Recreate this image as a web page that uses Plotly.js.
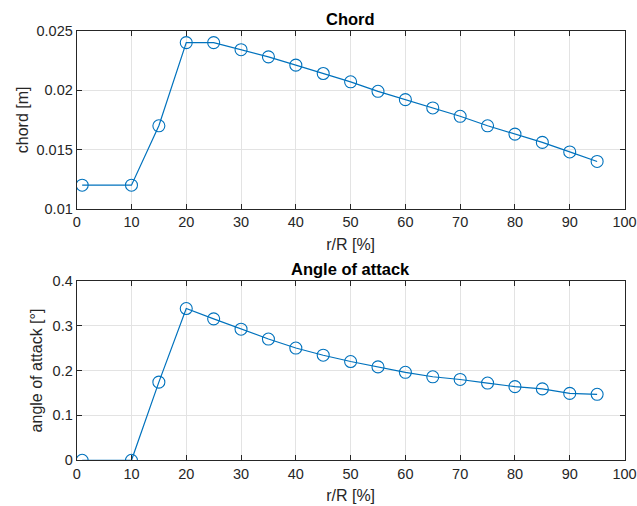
<!DOCTYPE html>
<html>
<head>
<meta charset="utf-8">
<script src="https://cdn.plot.ly/plotly-3.0.1.min.js"></script>
<style>html,body{margin:0;padding:0;background:#fff;}#chart{width:637px;height:506px;}</style>
</head>
<body>
<div id="chart"></div>
<script>
const rR = [1, 10, 15, 20, 25, 30, 35, 40, 45, 50, 55, 60, 65, 70, 75, 80, 85, 90, 95];
const chord = [0.012, 0.012, 0.017, 0.024, 0.024, 0.0234, 0.0228, 0.0221, 0.0214, 0.0207, 0.0199, 0.0192, 0.0185, 0.0178, 0.0170, 0.0163, 0.0156, 0.0148, 0.0140];
const aoa = [0, 0, 0.174, 0.338, 0.315, 0.292, 0.270, 0.250, 0.234, 0.220, 0.208, 0.196, 0.186, 0.180, 0.172, 0.164, 0.159, 0.149, 0.147];
const xTicks = [0, 10, 20, 30, 40, 50, 60, 70, 80, 90, 100];
const chordTicks = [0.01, 0.015, 0.02, 0.025];
const chordTickText = ['0.01', '0.015', '0.02', '0.025'];
const aoaTicks = [0, 0.1, 0.2, 0.3, 0.4];
const aoaTickText = ['0', '0.1', '0.2', '0.3', '0.4'];

const blue = '#0072BD';
const axisCol = '#262626';
const fam = 'Liberation Sans, Arial, sans-serif';
const tickFont = {family: fam, size: 14.5, color: axisCol};
const labelFont = {family: fam, size: 16, color: axisCol};

const trace = (y, xa, ya) => ({
  x: rR, y: y, xaxis: xa, yaxis: ya, type: 'scatter', mode: 'lines+markers',
  line: {color: blue, width: 1.2},
  marker: {symbol: 'circle-open', size: 12, color: blue, line: {width: 1.1, color: blue}},
  showlegend: false, hoverinfo: 'x+y'
});

const common = {
  ticks: 'inside', ticklen: 5, tickcolor: axisCol, tickwidth: 1,
  showline: true, linecolor: axisCol, linewidth: 1, mirror: 'ticks',
  showgrid: true, gridcolor: '#e3e3e3', gridwidth: 1, zeroline: false,
  tickfont: tickFont, automargin: false, ticklabeloverflow: 'allow'
};

const xAxisBase = (anchor) => Object.assign({}, common, {
  anchor: anchor, domain: [0.1204, 0.9804], range: [0, 100],
  tickvals: xTicks, ticktext: xTicks.map(String),
  title: {text: 'r/R [%]', font: labelFont, standoff: 9}
});

const layout = {
  width: 637, height: 506,
  margin: {l: 0, r: 0, t: 0, b: 0},
  paper_bgcolor: '#ffffff', plot_bgcolor: '#ffffff',
  font: tickFont,
  xaxis: xAxisBase('y'),
  yaxis: Object.assign({}, common, {
    anchor: 'x', domain: [0.587, 0.9393], range: [0.01, 0.025],
    tickvals: chordTicks, ticktext: chordTickText,
    title: {text: 'chord [m]', font: labelFont, standoff: 3}
  }),
  xaxis2: xAxisBase('y2'),
  yaxis2: Object.assign({}, common, {
    anchor: 'x2', domain: [0.0903, 0.4453], range: [0, 0.4],
    tickvals: aoaTicks, ticktext: aoaTickText,
    title: {text: 'angle of attack [°]', font: labelFont, standoff: 6}
  }),
  annotations: [
    {text: '<b>Chord</b>', xref: 'paper', yref: 'paper', x: 0.5504, y: 1 - 19/506, xanchor: 'center', yanchor: 'middle', showarrow: false, font: {family: fam, size: 16.5, color: '#000'}},
    {text: '<b>Angle of attack</b>', xref: 'paper', yref: 'paper', x: 0.5504, y: 1 - 269/506, xanchor: 'center', yanchor: 'middle', showarrow: false, font: {family: fam, size: 16.5, color: '#000'}}
  ]
};

Plotly.newPlot('chart', [trace(chord, 'x', 'y'), trace(aoa, 'x2', 'y2')], layout, {displayModeBar: false, staticPlot: true});
</script>
</body>
</html>
